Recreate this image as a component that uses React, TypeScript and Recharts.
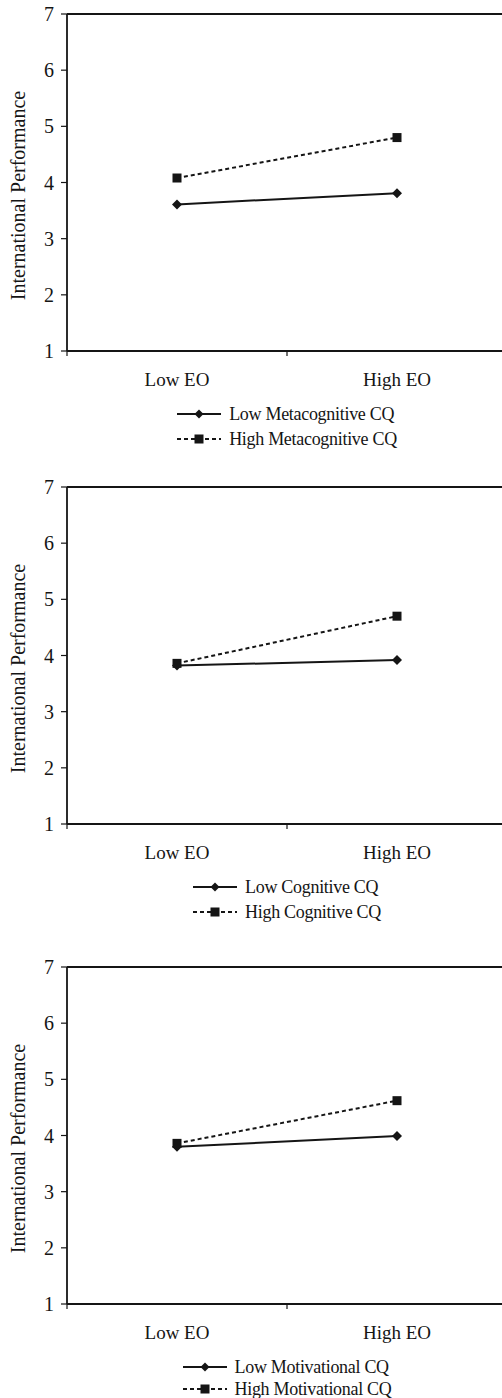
import { LineChart, Line, XAxis, YAxis, ReferenceLine, Legend } from 'recharts';

const categories = ['Low EO', 'High EO'];
const yTicks = [1, 2, 3, 4, 5, 6, 7];
const boundaryTicks = [0, 1, 2];

const metaLow = [3.61, 3.81];
const metaHigh = [4.08, 4.8];
const metaNames = ['Low Metacognitive CQ', 'High Metacognitive CQ'];

const cogLow = [3.82, 3.92];
const cogHigh = [3.86, 4.7];
const cogNames = ['Low Cognitive CQ', 'High Cognitive CQ'];

const motLow = [3.8, 3.99];
const motHigh = [3.86, 4.62];
const motNames = ['Low Motivational CQ', 'High Motivational CQ'];

const FONT = '"Liberation Serif", "Times New Roman", serif';
const INK = '#151515';

function Diamond({ cx, cy, r = 5 }: { cx: number; cy: number; r?: number }) {
  return <polygon points={`${cx},${cy - r} ${cx + r},${cy} ${cx},${cy + r} ${cx - r},${cy}`} fill={INK} />;
}

function Square({ cx, cy, r = 4.5 }: { cx: number; cy: number; r?: number }) {
  return <rect x={cx - r} y={cy - r} width={r * 2} height={r * 2} fill={INK} />;
}

function LegendBox({ names, rowH }: { names: string[]; rowH: number }) {
  return (
    <div style={{ display: 'flex', justifyContent: 'center', fontFamily: FONT, fontSize: 18, color: INK }}>
      <div>
        {names.map((name, i) => (
          <div key={name} style={{ display: 'flex', alignItems: 'center', height: rowH }}>
            <svg width={44} height={12}>
              <line x1={0} x2={44} y1={6} y2={6} stroke={INK} strokeWidth={1.8} strokeDasharray={i === 1 ? '4 3' : undefined} />
              {i === 0 ? <Diamond cx={22} cy={6} r={4.5} /> : <Square cx={22} cy={6} r={4.5} />}
            </svg>
            <span style={{ marginLeft: 8, letterSpacing: -0.3 }}>{name}</span>
          </div>
        ))}
      </div>
    </div>
  );
}

function Panel({ low, high, names, top, rowH }: { low: number[]; high: number[]; names: string[]; top: number; rowH: number }) {
  const data = categories.map((c, i) => ({ x: i + 0.5, name: c, low: low[i], high: high[i] }));
  return (
    <div style={{ position: 'absolute', left: 0, top }}>
      <LineChart width={510} height={470} data={data} margin={{ top: 14, right: 3, bottom: 78, left: 0 }}>
        <XAxis
          xAxisId="a"
          dataKey="x"
          type="number"
          domain={[0, 2]}
          ticks={boundaryTicks}
          tickFormatter={() => ''}
          tickSize={5}
          height={1}
          axisLine={{ stroke: INK, strokeWidth: 1.8 }}
          tickLine={{ stroke: INK, strokeWidth: 1.2 }}
        />
        <XAxis
          xAxisId="b"
          dataKey="x"
          type="number"
          domain={[0, 2]}
          ticks={data.map((d) => d.x)}
          tickFormatter={(v: number) => categories[Math.floor(v)]}
          height={40}
          axisLine={false}
          tickLine={false}
          tickSize={0}
          tickMargin={21}
          tick={{ fill: INK, fontSize: 19, fontFamily: FONT }}
        />
        <YAxis
          domain={[1, 7]}
          ticks={yTicks}
          width={67}
          tickSize={6}
          tickMargin={7}
          axisLine={{ stroke: INK, strokeWidth: 1.8 }}
          tickLine={{ stroke: INK, strokeWidth: 1.2 }}
          tick={{ fill: INK, fontSize: 20, fontFamily: FONT }}
          label={{
            content: ({ viewBox }: { viewBox?: { y: number; height: number } }) => {
              const cy = (viewBox?.y ?? 0) + (viewBox?.height ?? 0) / 2 + 13;
              return (
                <text x={18} y={cy} transform={`rotate(-90, 18, ${cy})`} textAnchor="middle" dominantBaseline="central" fill={INK} fontSize={20} fontFamily={FONT}>
                  International Performance
                </text>
              );
            },
          }}
        />
        <ReferenceLine xAxisId="a" y={7} stroke={INK} strokeWidth={1.8} />
        <Line
          xAxisId="a"
          dataKey="low"
          stroke={INK}
          strokeWidth={2}
          isAnimationActive={false}
          dot={(p: { cx: number; cy: number; index: number }) => <Diamond key={`d${p.index}`} cx={p.cx} cy={p.cy} />}
        />
        <Line
          xAxisId="a"
          dataKey="high"
          stroke={INK}
          strokeWidth={2}
          strokeDasharray="4 3"
          isAnimationActive={false}
          dot={(p: { cx: number; cy: number; index: number }) => <Square key={`s${p.index}`} cx={p.cx} cy={p.cy} />}
        />
        <Legend
          layout="vertical"
          align="center"
          verticalAlign="middle"
          width={440}
          wrapperStyle={{ left: 67, top: 414 - rowH / 2 }}
          content={() => <LegendBox names={names} rowH={rowH} />}
        />
      </LineChart>
    </div>
  );
}

export default function App() {
  return (
    <div style={{ position: 'absolute', left: 0, top: 0, width: 502, height: 1398, overflow: 'hidden', background: '#fff' }}>
      <Panel low={metaLow} high={metaHigh} names={metaNames} top={0} rowH={25} />
      <Panel low={cogLow} high={cogHigh} names={cogNames} top={473} rowH={25} />
      <Panel low={motLow} high={motHigh} names={motNames} top={953} rowH={22} />
    </div>
  );
}
